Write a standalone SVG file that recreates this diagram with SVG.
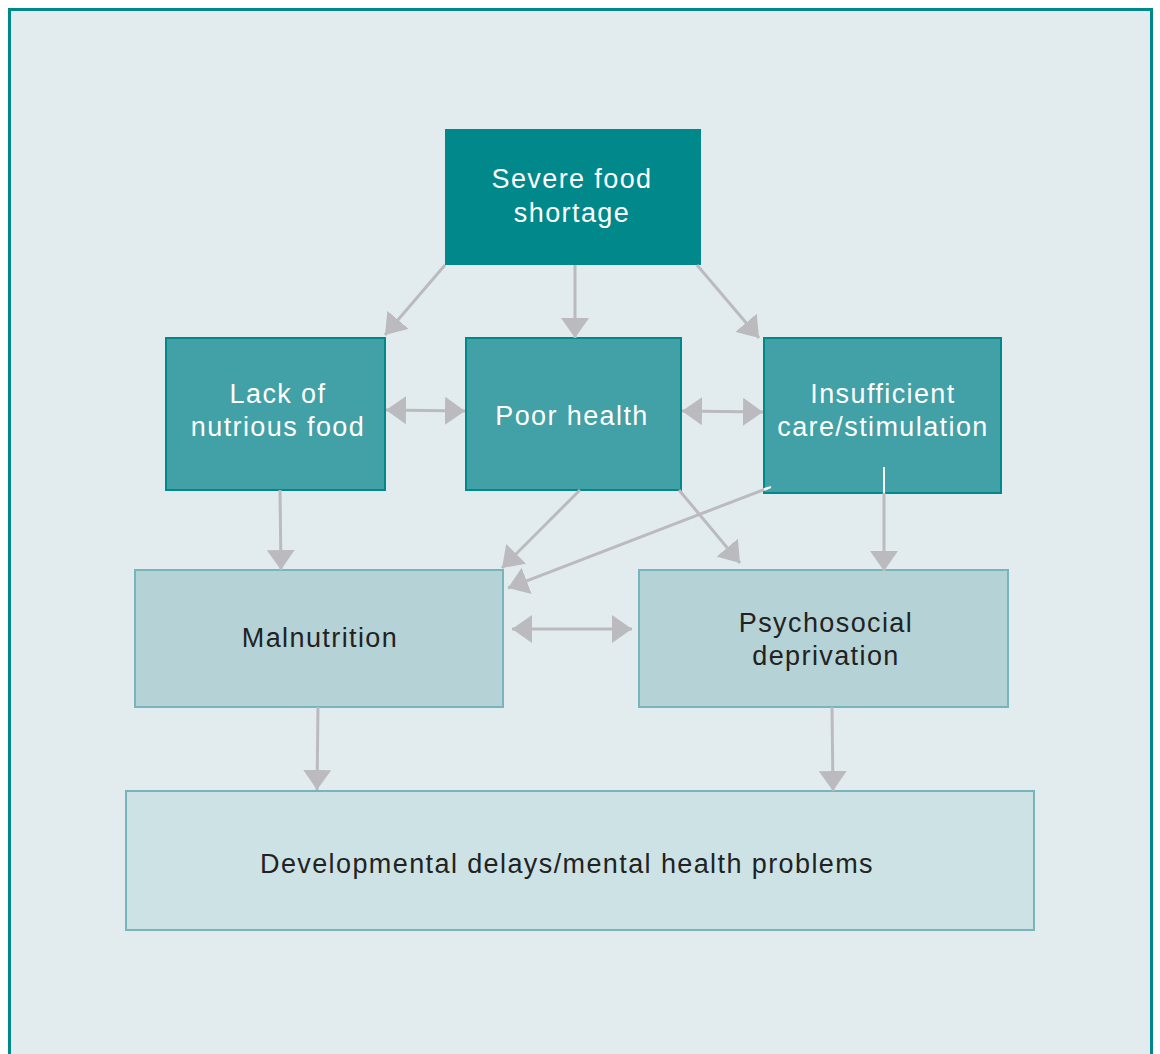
<svg xmlns="http://www.w3.org/2000/svg" width="1160" height="1054" viewBox="0 0 1160 1054">
<style>
.bg{fill:#e2ecee;stroke:#00898b;stroke-width:3}
.dark{fill:#00888b}
.mid{fill:#42a0a7;stroke:#00898b;stroke-width:2}
.light{fill:#b5d2d6;stroke:#77b5ba;stroke-width:2}
.pale{fill:#cde2e5;stroke:#77b5ba;stroke-width:2}
.w{font-family:"Liberation Sans",Arial,sans-serif;font-size:27px;letter-spacing:1.4px;fill:#ffffff;text-anchor:middle}
.k{font-family:"Liberation Sans",Arial,sans-serif;font-size:27px;letter-spacing:1.4px;fill:#222222;text-anchor:middle}
.c line{stroke:#bbbbbf;stroke-width:3;fill:none}
.c line.one{marker-end:url(#ah)}
.c line.two{marker-end:url(#ah);marker-start:url(#ah)}
</style>
<defs>
<marker id="ah" viewBox="0 0 20 28" refX="20" refY="14" markerWidth="20" markerHeight="28" markerUnits="userSpaceOnUse" orient="auto-start-reverse">
<path d="M0,0 L20,14 L0,28 Z" fill="#bbbbbf"/>
</marker>
</defs>
<rect class="bg" x="9.5" y="9.5" width="1142" height="1060"/>
<g id="severe"><rect class="dark" x="445" y="129" width="256" height="136"/><text class="w" x="572" y="188">Severe food</text><text class="w" x="572" y="222">shortage</text></g>
<g id="lack"><rect class="mid" x="166" y="338" width="219" height="152"/><text class="w" x="278" y="403">Lack of</text><text class="w" x="278" y="436">nutrious food</text></g>
<g id="poor"><rect class="mid" x="466" y="338" width="215" height="152"/><text class="w" x="572" y="425">Poor health</text></g>
<g id="insufficient"><rect class="mid" x="764" y="338" width="237" height="155"/><text class="w" x="883" y="403">Insufficient</text><text class="w" x="883" y="436">care/stimulation</text></g>
<g id="malnutrition"><rect class="light" x="135" y="570" width="368" height="137"/><text class="k" x="320" y="647">Malnutrition</text></g>
<g id="psychosocial"><rect class="light" x="639" y="570" width="369" height="137"/><text class="k" x="826" y="632">Psychosocial</text><text class="k" x="826" y="665">deprivation</text></g>
<g id="developmental"><rect class="pale" x="126" y="791" width="908" height="139"/><text class="k" x="567" y="873">Developmental delays/mental health problems</text></g>
<g id="connectors" class="c">
<line class="one" x1="445" y1="265" x2="385" y2="335"/>
<line class="one" x1="575" y1="265" x2="575" y2="338"/>
<line class="one" x1="697" y1="265" x2="759" y2="338"/>
<line class="two" x1="386" y1="410" x2="465" y2="411"/>
<line class="two" x1="682" y1="411" x2="763" y2="412"/>
<line class="one" x1="280" y1="490" x2="281" y2="570"/>
<line class="one" x1="580" y1="490" x2="502" y2="568"/>
<line class="one" x1="768" y1="488" x2="508" y2="588"/>
<line class="one" x1="679" y1="490" x2="740" y2="563"/>
<line class="one" x1="884" y1="493" x2="884" y2="571"/>
<line class="two" x1="512" y1="629" x2="632" y2="629"/>
<line class="one" x1="318" y1="707" x2="317" y2="790"/>
<line class="one" x1="832" y1="707" x2="833" y2="791"/>
<line x1="884" y1="467" x2="884" y2="493" style="stroke:#ffffff;stroke-width:2"/>
<line x1="764" y1="489.5" x2="771" y2="487" style="stroke:#ffffff;stroke-width:2"/>
</g>
</svg>
